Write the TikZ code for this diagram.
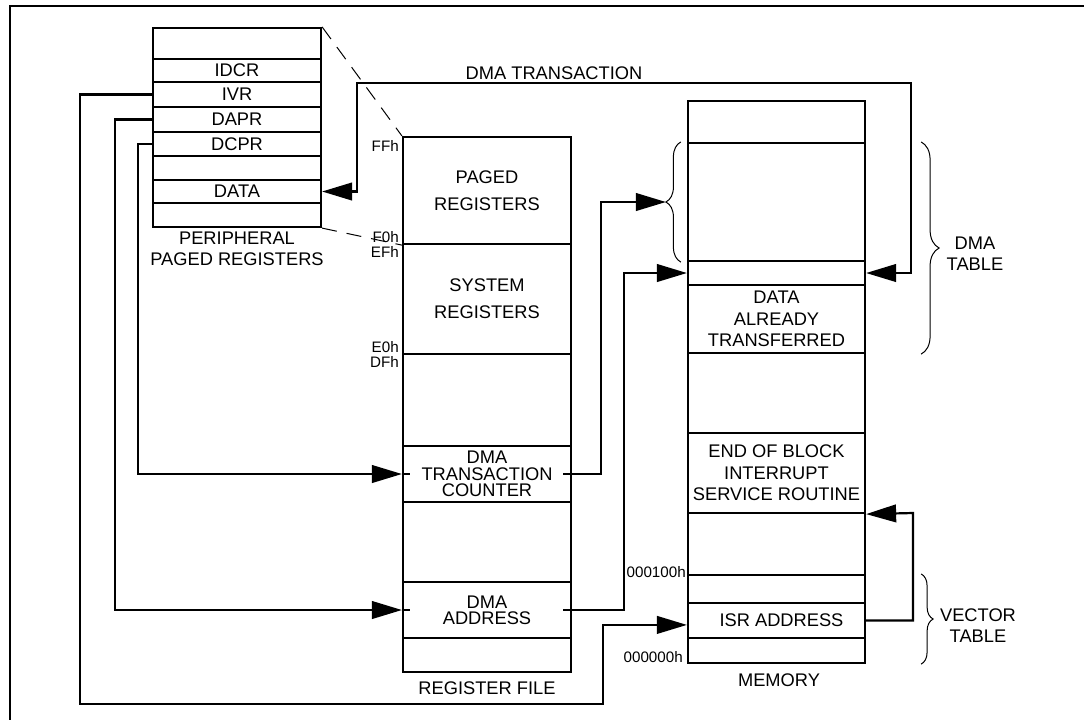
\documentclass[tikz,border=0pt]{standalone}
\usepackage{fontspec}
\setmainfont{Liberation Sans}
\usetikzlibrary{positioning,arrows.meta,decorations.pathreplacing}

\newcommand{\boxfont}{\fontsize{13}{15.2}\selectfont}
\newcommand{\widefont}{\fontsize{13}{19}\selectfont}
\newcommand{\tightfont}{\fontsize{13}{11.6}\selectfont}
\newcommand{\addrfont}{\fontsize{10.8}{12}\selectfont}

\begin{document}
\begin{tikzpicture}[x=0.25mm, y=-0.25mm,
  >={Triangle[length=7.5mm, width=4.4mm]},
  cell/.style={draw, line width=0.55mm, minimum width=42mm, inner sep=0pt, align=center, font=\boxfont},
  memcell/.style={cell, minimum width=44.25mm},
  lbl/.style={font=\boxfont, align=center, inner sep=0pt},
  addr/.style={font=\addrfont, anchor=east, inner sep=0pt},
  conn/.style={line width=0.55mm},
  thinline/.style={line width=0.25mm},
  dashline/.style={thinline, dash pattern=on 3.75mm off 2.5mm},
  bracel/.style={thinline, decorate, decoration={brace, amplitude=#1}}
]
\useasboundingbox (0,0) rectangle (1084,720);

% frame
\draw[line width=0.6mm] (1084,6) -- (10,6) -- (10,720);

% peripheral paged registers
\node[cell, minimum height=7.75mm] (pp0) at (237,43.5) {};
\node[cell, minimum height=5.75mm] (idcr) at (237,70.5) {IDCR};
\node[cell, minimum height=6.25mm] (ivr) at (237,94.5) {IVR};
\node[cell, minimum height=6.25mm] (dapr) at (237,119.5) {DAPR};
\node[cell, minimum height=6mm] (dcpr) at (237,144) {DCPR};
\node[cell, minimum height=6mm] (pp5) at (237,168) {};
\node[cell, minimum height=5.75mm] (data) at (237,191.5) {DATA};
\node[cell, minimum height=6mm] (pp7) at (237,215) {};
\node[lbl] (pplbl) at (237,249) {PERIPHERAL\\PAGED REGISTERS};

% register file
\node[cell, minimum height=26.75mm, font=\widefont] (paged) at (487,190.5) {PAGED\\REGISTERS};
\node[cell, minimum height=27.5mm, font=\widefont] (system) at (487,299) {SYSTEM\\REGISTERS};
\node[cell, minimum height=23mm] (rf2) at (487,400) {};
\node[cell, minimum height=14mm, font=\tightfont] (dmacnt) at (487,474) {DMA\\TRANSACTION\\COUNTER};
\node[cell, minimum height=20mm] (rf4) at (487,542) {};
\node[cell, minimum height=14mm, font=\tightfont] (dmaadr) at (487,610) {DMA\\ADDRESS};
\node[cell, minimum height=8.5mm] (rf6) at (487,655) {};
\node[lbl] (rflbl) at (487,688) {REGISTER FILE};

\node[addr] (aff) at (399,146) {FFh};
\node[addr] (af0) at (399,237) {F0h};
\node[addr] (aef) at (399,252) {EFh};
\node[addr] (ae0) at (399,347) {E0h};
\node[addr] (adf) at (399,362) {DFh};

% memory
\node[memcell, minimum height=10.5mm] (m0) at (776.5,122) {};
\node[memcell, minimum height=29.5mm] (m1) at (776.5,202) {};
\node[memcell, minimum height=6mm] (cur) at (776.5,273) {};
\node[memcell, minimum height=17mm] (done) at (776.5,319) {DATA\\ALREADY\\TRANSFERRED};
\node[memcell, minimum height=20mm] (m4) at (776.5,393) {};
\node[memcell, minimum height=20mm] (isr) at (776.5,473) {END OF BLOCK\\INTERRUPT\\SERVICE ROUTINE};
\node[memcell, minimum height=15.5mm] (m6) at (776.5,544) {};
\node[memcell, minimum height=7mm] (m7) at (776.5,589) {};
\node[memcell, minimum height=8.75mm] (isradr) at (776.5,620.5) {\hspace{2.5mm}ISR ADDRESS};
\node[memcell, minimum height=6.25mm] (m9) at (776.5,650.5) {};
\node[lbl] (memlbl) at (779,680) {MEMORY};

\node[addr] (a100) at (686,572) {000100h};
\node[addr] (a000) at (683,657) {000000h};

% paging lines
\draw[dashline] (pp0.north east) -- (paged.north west);
\draw[dashline] (pp7.south east) -- (paged.south west);

% braces
\draw[bracel=3.75mm] ([xshift=-1.5mm]m1.south west) -- ([xshift=-1.5mm]m1.north west);
\coordinate (brtip) at ([xshift=-5.25mm]m1.west);
\draw[bracel=4.5mm] ([xshift=13.75mm]m1.north east) -- ([xshift=13.75mm]done.south east);
\node[lbl] (dmatbl) at (975,253.5) {DMA\\TABLE};
\draw[bracel=3mm] ([xshift=13.75mm]m7.north east) -- ([xshift=13.75mm]m9.south east);
\node[lbl] (vectbl) at (978,625.5) {VECTOR\\TABLE};

% dma transaction
\coordinate (txl) at (357,83);
\coordinate (txr) at (911,83);
\draw[conn,<->] (data.east) -| (txl) -- (txr) |- (cur.east);
\node[lbl] (txlbl) at (554,73) {DMA TRANSACTION};

% ivr to isr address
\coordinate (ivrl) at (80,704);
\coordinate (ivrr) at (603,704);
\draw[conn,->] (ivr.west) -| (ivrl) -- (ivrr) |- ([yshift=-1.1mm]isradr.west);

% dapr to dma address
\coordinate (daprl) at (115,610);
\draw[conn,->] (dapr.west) -| (daprl) -- (dmaadr.west);
\draw[conn] (dmaadr.west) -- ++(2mm,0);
\coordinate (adrup) at (624,610);
\draw[conn,->] ([xshift=-2.25mm]dmaadr.east) -- (adrup) |- (cur.west);

% dcpr to counter
\coordinate (dcprl) at (138,474);
\draw[conn,->] (dcpr.west) -| (dcprl) -- (dmacnt.west);
\draw[conn] (dmacnt.west) -- ++(2mm,0);
\coordinate (cntup) at (601,474);
\draw[conn,->] ([xshift=-2.25mm]dmacnt.east) -- (cntup) |- (brtip);

% isr address to routine
\coordinate (isrr) at (913,513);
\draw[conn,->] (isradr.east) -| (isrr) -- (isr.south east);

\end{tikzpicture}
\end{document}
